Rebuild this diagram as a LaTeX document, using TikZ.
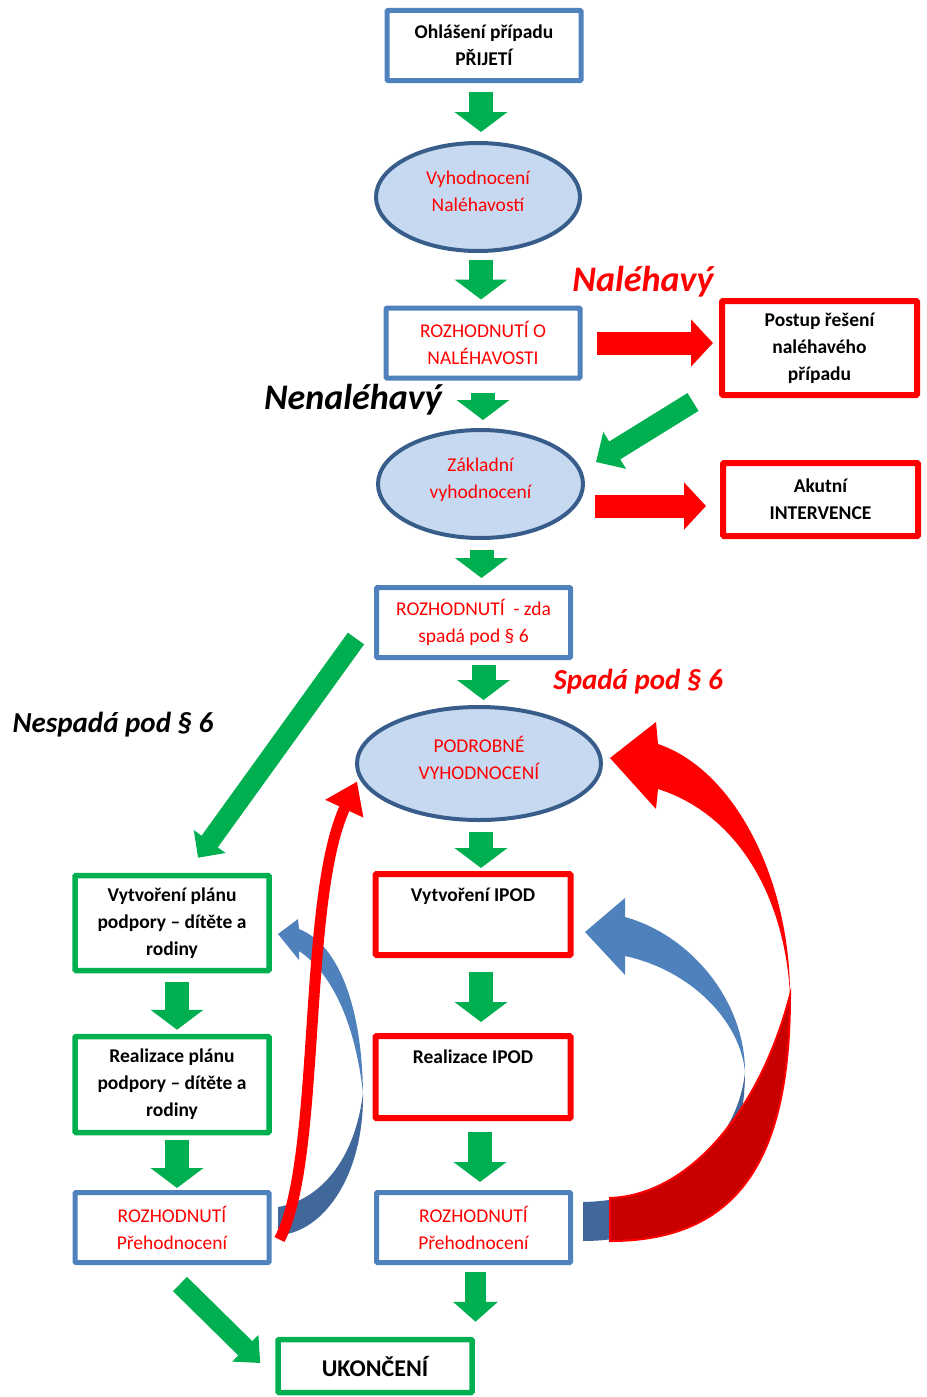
\documentclass[tikz,border=0pt]{standalone}
\usepackage{fontspec}
\setmainfont{Carlito}
\usetikzlibrary{shapes.geometric,arrows.meta,calc}
\definecolor{boxblue}{HTML}{4F81BD}
\definecolor{ovalfill}{HTML}{C6D9F1}
\definecolor{ovalline}{HTML}{385D8A}
\definecolor{arrgreen}{HTML}{00B050}
\definecolor{darkred}{HTML}{C80000}
\definecolor{darkblue}{HTML}{41689B}
\begin{document}
\begin{tikzpicture}[x=1pt,y=-1pt,
    every node/.style={align=center, inner sep=0pt, font=\fontsize{19.5}{27}\selectfont},
    blk/.style={font=\bfseries\fontsize{19.5}{27}\selectfont},
    redtxt/.style={text=red},
    bluebox/.style={rectangle, rounded corners=1pt, draw=boxblue, line width=5pt, fill=white, minimum width=194pt, minimum height=70pt},
    redbox/.style={rectangle, rounded corners=1pt, draw=red, line width=6pt, fill=white, minimum width=195pt},
    greenbox/.style={rectangle, rounded corners=1pt, draw=arrgreen, line width=5.5pt, fill=white, minimum width=194pt},
    oval/.style={ellipse, draw=ovalline, line width=4pt, fill=ovalfill, text=red, text depth=11pt},
    title/.style={font=\bfseries\itshape\fontsize{36}{40}\selectfont},
    subtitle/.style={font=\bfseries\itshape\fontsize{29}{33}\selectfont},
    garrow/.style={draw=arrgreen, line width=24pt, -{Triangle[width=52pt,length=20pt]}, shorten <=8pt, shorten >=8pt},
    gdiag/.style={draw=arrgreen, line width=21pt, -{Triangle[width=42pt,length=22pt]}},
    rarrow/.style={draw=red, line width=23pt, -{Triangle[width=46pt,length=22pt]}}]
    \useasboundingbox (0,0) rectangle (926,1397);

    \node [bluebox, blk] (prij) at (484,45.5) {Ohlášení případu\\PŘIJETÍ};
    \node [oval, minimum width=204pt, minimum height=108pt] (vyh) at (478,197) {Vyhodnocení\\Naléhavostí};
    \node [bluebox, redtxt] (rozh) at (483,343) {ROZHODNUTÍ O\\NALÉHAVOSTI};
    \node [redbox, blk, minimum height=94pt] (post) at (819.5,348) {Postup řešení\\naléhavého\\případu};
    \node [oval, minimum width=205pt, minimum height=108pt] (zakl) at (480.5,484) {Základní\\vyhodnocení};
    \node [redbox, blk, minimum height=73pt] (akut) at (820.5,499.5) {Akutní\\INTERVENCE};
    \node [bluebox, redtxt] (spada) at (473.5,622.5) {ROZHODNUTÍ\ \ - zda\\spadá pod § 6};
    \node [oval, minimum width=244pt, minimum height=113pt] (podr) at (479,763.5) {PODROBNÉ\\VYHODNOCENÍ};
    \node [greenbox, blk, minimum height=95pt] (plan) at (172,923) {Vytvoření plánu\\podpory – dítěte a\\rodiny};
    \node [redbox, blk, minimum height=81pt, text depth=40pt] (ipod) at (473,914.5) {Vytvoření IPOD};
    \node [greenbox, blk, minimum height=96pt] (real) at (172,1084.5) {Realizace plánu\\podpory – dítěte a\\rodiny};
    \node [redbox, blk, minimum height=82pt, text depth=40pt] (ripod) at (473,1077) {Realizace IPOD};
    \node [bluebox, redtxt] (preh) at (172,1227.5) {ROZHODNUTÍ\\Přehodnocení};
    \node [bluebox, redtxt] (preh2) at (473.5,1227.5) {ROZHODNUTÍ\\Přehodnocení};
    \node [greenbox, font=\bfseries\fontsize{24}{28}\selectfont, minimum height=53pt] (konec) at (375,1366) {UKONČENÍ};

    \node [title, text=red] (nal) at (643,282) {Naléhavý};
    \node [title] (nenal) at (353,400) {Nenaléhavý};
    \node [subtitle, text=red] (sp) at (638,682) {Spadá pod § 6};
    \node [subtitle] (nesp) at (113,725) {Nespadá pod § 6};

    \draw [garrow, shorten <=9pt, shorten >=9pt] ([xshift=-3pt]prij.south) -- ([xshift=-3pt]prij.south |- vyh.north);
    \draw [garrow, shorten <=7pt, shorten >=6pt] ([xshift=3pt]vyh.south) -- ([xshift=3pt]vyh.south |- rozh.north);
    \draw [garrow, shorten <=12pt, shorten >=8pt] (rozh.south) -- (rozh.south |- zakl.north);
    \draw [garrow, shorten <=10pt, shorten >=7pt] ([xshift=1pt]zakl.south) -- ([xshift=1pt]zakl.south |- spada.north);
    \draw [garrow, shorten <=5pt, shorten >=5pt] ([xshift=10pt]spada.south) -- ([xshift=10pt]spada.south |- podr.north);
    \draw [garrow, shorten <=10pt, shorten >=3pt] ([xshift=2pt]podr.south) -- ([xshift=2pt]podr.south |- ipod.north);
    \draw [garrow, shorten <=14pt, shorten >=11pt] ([xshift=8pt]ipod.south) -- ([xshift=8pt]ipod.south |- ripod.north);
    \draw [garrow, shorten <=11pt, shorten >=8pt] ([xshift=7pt]ripod.south) -- ([xshift=7pt]ripod.south |- preh2.north);
    \draw [garrow, shorten <=9pt, shorten >=4pt] ([xshift=5pt]plan.south) -- ([xshift=5pt]plan.south |- real.north);
    \draw [garrow, shorten <=5pt, shorten >=2pt] ([xshift=5pt]real.south) -- ([xshift=5pt]real.south |- preh.north);
    \draw [garrow, line width=21pt, -{Triangle[width=44pt,length=20pt]}, shorten <=7pt, shorten >=15pt] ([xshift=2pt]preh2.south) -- ([xshift=2pt]preh2.south |- konec.north);

    \draw [rarrow, shorten <=14pt, shorten >=6pt] (rozh.east) -- (rozh.east -| post.west);
    \draw [rarrow, shorten <=12pt, shorten >=14pt] ([yshift=-22pt]zakl.east -| rozh.east) -- ([yshift=-22pt]zakl.east -| akut.west);

    \draw [gdiag] ($(post.south west)+(-26,4)$) -- ($(zakl.east)+(11,-22)$);
    \draw [gdiag, line width=20pt, -{Triangle[width=38pt,length=20pt]}] ($(spada.west)+(-18,16)$) -- ($(plan.north)+(26,-15)$);
    \draw [gdiag, line width=20pt, -{Triangle[width=36pt,length=21pt]}] ($(preh.south)+(8,19)$) -- ($(konec.west)+(-15,-3)$);

    \fill [boxblue] (278,934) -- (298,919) -- (299,929) .. controls (340,945) and (362,1010) .. (363,1093) .. controls (356,1030) and (335,975) .. (299,951) -- (299,960) -- cycle;
    \fill [darkblue] (363,1093) .. controls (364,1180) and (320,1234) .. (278,1235) -- (278,1207) .. controls (320,1200) and (355,1160) .. (363,1093) -- cycle;
    \draw [red, line width=11pt, -{Triangle[width=40pt,length=30pt]}] ($(preh.east)+(8,12)$) .. controls +(42,-80) and +(-55,118) .. ($(podr.west)+(2,18)$);

    \fill [boxblue] (585,932) -- (625,898) -- (625,917) .. controls (690,935) and (745,1000) .. (745,1072) .. controls (740,1020) and (690,970) .. (625,956) -- (625,975) -- cycle;
    \fill [darkblue] (745,1072) .. controls (745,1170) and (690,1241) .. (583,1241) -- (583,1202) .. controls (680,1200) and (738,1140) .. (745,1072) -- cycle;
    \filldraw [fill=darkred, draw=red, line width=2pt] (790,995) .. controls (790,1150) and (745,1241) .. (610,1241) -- (610,1198) .. controls (690,1195) and (760,1110) .. (790,995) -- cycle;
    \fill [red] (610,758) -- (656,722) -- (658,744) .. controls (735,770) and (790,880) .. (790,995) .. controls (785,900) and (740,815) .. (658,789) -- (656,809) -- cycle;
\end{tikzpicture}
\end{document}
